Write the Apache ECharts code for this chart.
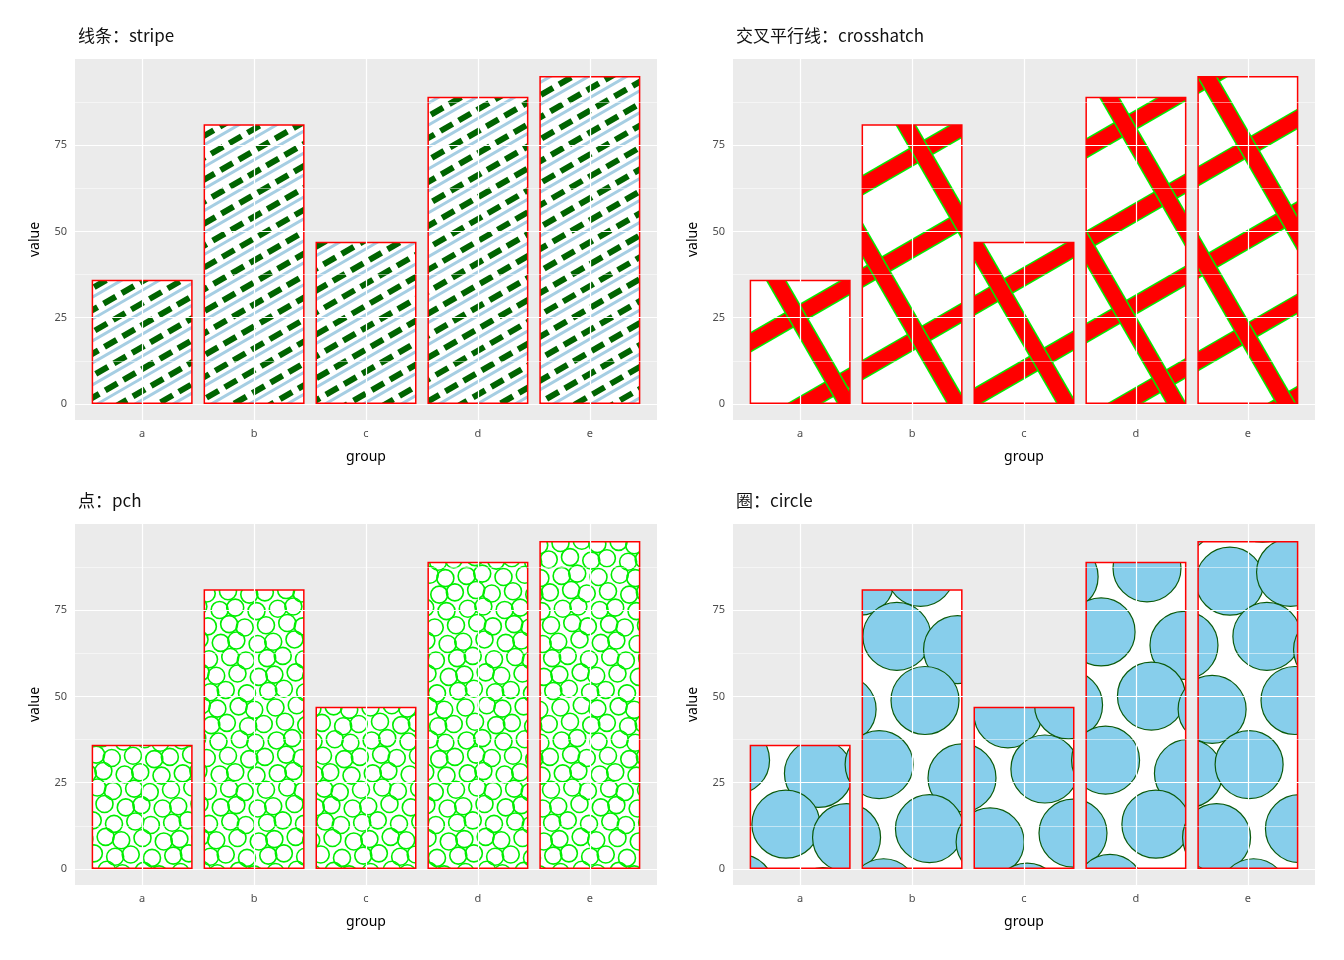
<!DOCTYPE html>
<html><head><meta charset="utf-8">
<script src="https://cdn.jsdelivr.net/npm/echarts@6/dist/echarts.min.js"></script>
<style>body{margin:0}#c{width:1344px;height:960px}</style>
</head><body><div id="c"></div>
<script>
var groups = ['a', 'b', 'c', 'd', 'e'];
var values = [36, 81, 47, 89, 95];
var yTicks = [0, 25, 50, 75];
var yMinor = [12.5, 37.5, 62.5, 87.5];
var titles = ['线条：stripe', '交叉平行线：crosshatch', '点：pch', '圈：circle'];

function makeCanvas(draw) {
    var cv = document.createElement('canvas');
    cv.width = 1344; cv.height = 960;
    var ctx = cv.getContext('2d');
    ctx.fillStyle = '#fff';
    ctx.fillRect(0, 0, 1344, 960);
    draw(ctx);
    return { image: cv, repeat: 'no-repeat' };
}
function lineSet(ctx, angle, spacing, fn) {
    var dx = Math.cos(angle), dy = Math.sin(angle);
    var nx = -dy, ny = dx;
    for (var k = -120; k < 120; k++) {
        var ox = 672 + nx * k * spacing, oy = 480 + ny * k * spacing;
        fn(ox - dx * 2000, oy - dy * 2000, ox + dx * 2000, oy + dy * 2000);
    }
}
var stripe = makeCanvas(function (ctx) {
    var a = -Math.PI / 6;
    lineSet(ctx, a, 19, function (x1, y1, x2, y2) {
        ctx.strokeStyle = '#a6cee3'; ctx.lineWidth = 3; ctx.setLineDash([]);
        ctx.beginPath(); ctx.moveTo(x1, y1 + 9); ctx.lineTo(x2, y2 + 9); ctx.stroke();
        ctx.strokeStyle = '#006400'; ctx.lineWidth = 6; ctx.setLineDash([14, 7]);
        ctx.beginPath(); ctx.moveTo(x1, y1); ctx.lineTo(x2, y2); ctx.stroke();
    });
});
var cross = makeCanvas(function (ctx) {
    [[-Math.PI / 6, 80], [Math.PI / 3, 95]].forEach(function (p) {
        lineSet(ctx, p[0], p[1], function (x1, y1, x2, y2) {
            ctx.strokeStyle = '#00ee00'; ctx.lineWidth = 18;
            ctx.beginPath(); ctx.moveTo(x1, y1); ctx.lineTo(x2, y2); ctx.stroke();
            ctx.strokeStyle = '#ff0000'; ctx.lineWidth = 15;
            ctx.beginPath(); ctx.moveTo(x1, y1); ctx.lineTo(x2, y2); ctx.stroke();
        });
    });
});
function circles(ctx, r, sp, fill, stroke, lw) {
    var rowH = sp * 0.866;
    for (var j = 0; j * rowH < 960 + sp; j++) {
        for (var i = -1; i * sp < 1344 + sp; i++) {
            var x = i * sp + (j % 2) * sp / 2 + ((i * 7 + j * 3) % 5 - 2) * sp * 0.06;
            var y = j * rowH + ((i * 3 + j * 5) % 5 - 2) * sp * 0.06;
            ctx.beginPath(); ctx.arc(x, y, r, 0, Math.PI * 2);
            if (fill) { ctx.fillStyle = fill; ctx.fill(); }
            ctx.strokeStyle = stroke; ctx.lineWidth = lw; ctx.stroke();
        }
    }
}
var pch = makeCanvas(function (ctx) { circles(ctx, 8.5, 19, null, '#00ee00', 1.6); });
var circ = makeCanvas(function (ctx) { circles(ctx, 34, 74, '#87ceeb', '#0b5a0b', 1.2); });
var fills = [stripe, cross, pch, circ];

var boxes = [
    { left: 75, top: 59 }, { left: 733, top: 59 },
    { left: 75, top: 524 }, { left: 733, top: 524 }
];
var xIdx = groups.map(function (g, i) { return i; });
var barData = values.map(function (v, i) { return [i, v]; });
var grid = [], xAxis = [], yAxis = [], series = [], title = [];
boxes.forEach(function (b, i) {
    grid.push({ left: b.left, top: b.top, width: 582, height: 361,
        show: true, backgroundColor: '#ebebeb', borderWidth: 0 });
    title.push({ text: titles[i], left: b.left - 2, top: b.top - 37,
        textStyle: { fontSize: 17, fontWeight: 'normal', color: '#111', fontFamily: 'Noto Sans CJK SC' } });
    xAxis.push({ gridIndex: i, type: 'value', min: -0.6, max: 4.6,
        name: 'group', nameLocation: 'middle', nameGap: 30,
        nameTextStyle: { fontSize: 14, color: '#000' },
        axisLine: { show: false },
        axisTick: { show: true, length: 4, customValues: xIdx, lineStyle: { color: '#333' } },
        axisLabel: { fontSize: 11, color: '#4d4d4d', margin: 8, customValues: xIdx,
            formatter: function (v) { return groups[Math.round(v)]; } },
        splitLine: { show: false } });
    yAxis.push({ gridIndex: i, type: 'value', min: -4.6, max: 99.9,
        name: 'value', nameLocation: 'middle', nameGap: 33, nameRotate: 90,
        nameTextStyle: { fontSize: 14, color: '#000' },
        axisLine: { show: false },
        axisTick: { show: true, length: 4, customValues: yTicks, lineStyle: { color: '#333' } },
        axisLabel: { fontSize: 11, color: '#4d4d4d', customValues: yTicks },
        splitLine: { show: false } });
    var lines = [];
    yTicks.forEach(function (v) { lines.push({ yAxis: v, lineStyle: { width: 1.2 } }); });
    yMinor.forEach(function (v) { lines.push({ yAxis: v, lineStyle: { width: 0.5 } }); });
    xIdx.forEach(function (g) { lines.push({ xAxis: g, lineStyle: { width: 1.2 } }); });
    series.push({ type: 'line', xAxisIndex: i, yAxisIndex: i, data: [], z: 1, silent: true,
        markLine: { silent: true, symbol: 'none', label: { show: false }, animation: false,
            lineStyle: { color: '#fff', type: 'solid' }, data: lines } });
    series.push({ type: 'bar', xAxisIndex: i, yAxisIndex: i, data: barData, barWidth: 101, z: 3,
        itemStyle: { color: fills[i], borderColor: '#ff0000', borderWidth: 1.5 } });
});

var chart = echarts.init(document.getElementById('c'));
chart.setOption({ animation: false, backgroundColor: '#fff',
    textStyle: { fontFamily: 'Noto Sans, sans-serif' },
    title: title, grid: grid, xAxis: xAxis, yAxis: yAxis, series: series });
</script></body></html>
